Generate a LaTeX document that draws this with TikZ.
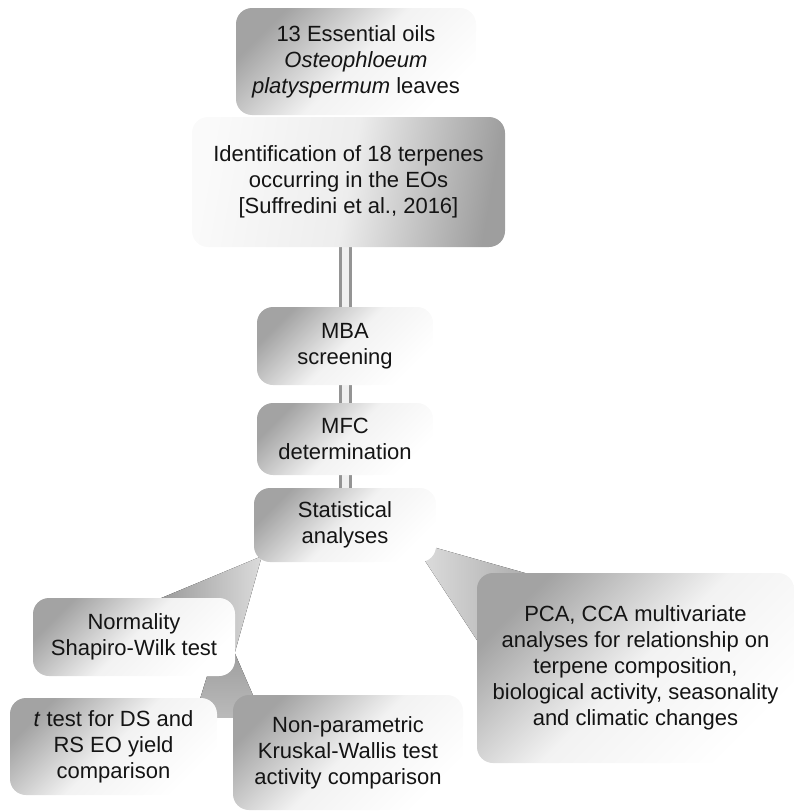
\documentclass[tikz,border=0pt]{standalone}
\usepackage{fontspec}
\setmainfont{Liberation Sans}
\usetikzlibrary{calc,backgrounds}
\begin{document}
\begin{tikzpicture}[x=1pt,y=-1pt,
  box/.style={rectangle, rounded corners=16pt, align=center, text=black!92,
    font=\fontsize{22}{26}\selectfont, inner sep=0pt,
    top color=black!36, bottom color=white, middle color=black!5, shading angle=45},
  boxr/.style={box, top color=black!38, bottom color=black!2, middle color=black!7, shading angle=-100},
  vlink/.style={line width=13pt, draw=black!42},
  vlinkin/.style={line width=7pt, draw=black!6},
]
\useasboundingbox (0,0) rectangle (794,811);

% nodes
\node[box, minimum width=240, minimum height=107] (top) at (356,61.5)
  {13 Essential oils\\ \textit{Osteophloeum}\\ \textit{platyspermum} leaves};
\node[boxr, minimum width=313, minimum height=130] (ident) at (348.5,182)
  {Identification of 18 terpenes\\ occurring in the EOs\\ {[}Suffredini et al., 2016{]}};
\node[box, minimum width=176, minimum height=78] (mba) at (345,346) {MBA\\ screening};
\node[box, minimum width=176, minimum height=72] (mfc) at (345,439) {MFC\\ determination};
\node[box, minimum width=182, minimum height=74] (stat) at (345,525) {Statistical\\ analyses};
\node[box, minimum width=202, minimum height=78] (norm) at (134,637) {Normality\\ Shapiro-Wilk test};
\node[box, minimum width=207, minimum height=97] (ttest) at (113.5,746.5)
  {\textit{t} test for DS and\\ RS EO yield\\ comparison};
\node[box, minimum width=230, minimum height=115] (nonp) at (348,752.5)
  {Non-parametric\\ Kruskal-Wallis test\\ activity comparison};
\node[box, minimum width=317, minimum height=190] (pca) at (635.5,668)
  {PCA, CCA multivariate\\ analyses for relationship on\\ terpene composition,\\ biological activity, seasonality\\ and climatic changes};

\begin{pgfonlayer}{background}
  % wedge connectors, anchored on the node corners
  \fill[left color=black!42, right color=black!14]
    ($(stat.south west)+(8,-6)$) -- ($(norm.north west)+(117,5)$) -- ($(norm.south east)+(-7,0)$) -- cycle;
  \fill[left color=black!12, right color=black!38]
    ($(stat.south east)+(-24,-21)$) -- ($(pca.north west)+(83,10)$) -- ($(pca.north west)+(13,87)$) -- cycle;
  \fill[top color=black!40, bottom color=black!27]
    ($(norm.south east)+(-17,-36)$) -- ($(norm.south east)+(-6,-36)$) -- ($(nonp.north west)+(30,23)$) -- ($(ttest.north east)+(-23,20)$) -- cycle;
  % vertical double connectors
  \foreach \a/\b in {ident/mba, mba/mfc, mfc/stat}{
    \draw[vlink] (\b.north |- \a.south) -- (\b.north);
    \draw[vlinkin] (\b.north |- \a.south) -- (\b.north);
  }
\end{pgfonlayer}
\end{tikzpicture}
\end{document}
